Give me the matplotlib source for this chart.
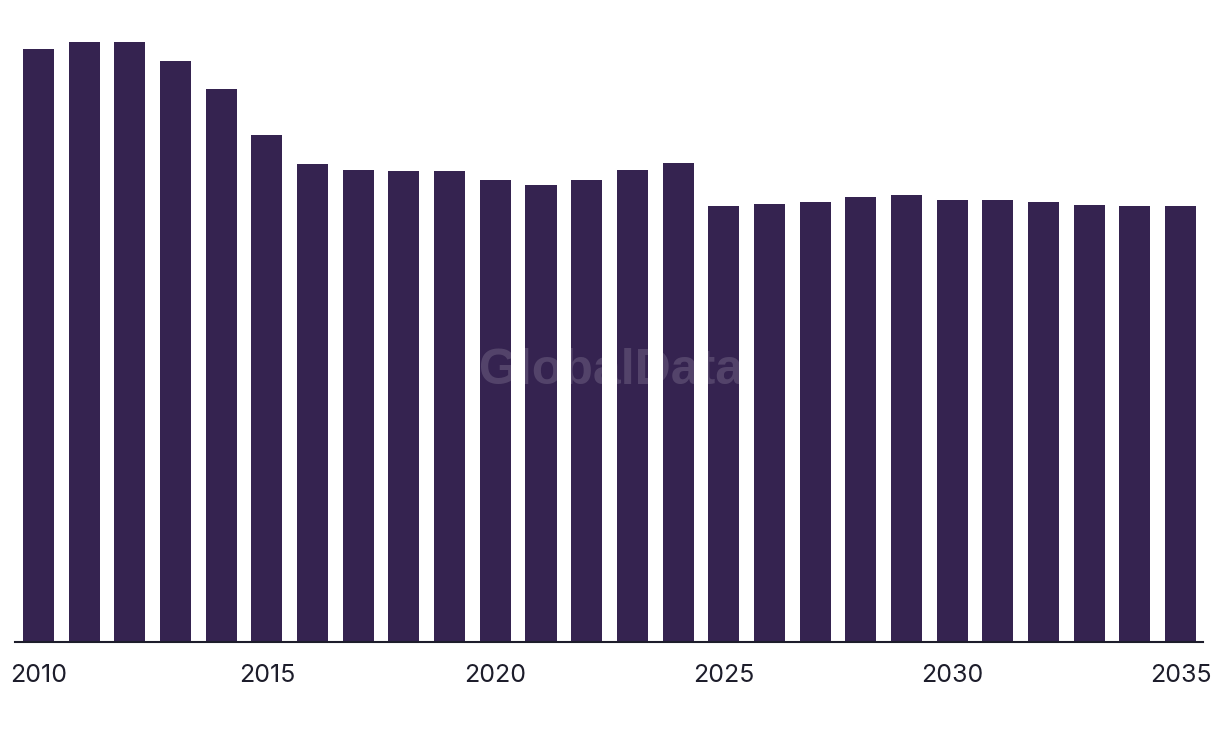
import matplotlib
matplotlib.use("Agg")
import matplotlib.pyplot as plt

# bar heights (arbitrary units, no y axis shown)
years = list(range(2010, 2036))
values = [593, 600, 600, 581, 553, 507, 478, 472, 471, 471, 462, 457, 462,
          472, 479, 436, 438, 440, 445, 447, 442, 442, 440, 437, 436, 436]
tick_years = [2010, 2015, 2020, 2025, 2030, 2035]

bar_color = '#352350'
text_color = '#1d1d2b'

plt.rcParams['font.family'] = ['Inter', 'DejaVu Sans']

fig = plt.figure(figsize=(12.2, 7.38), dpi=100)
ax = fig.add_axes([15 / 1220, 96.3 / 738, 1188 / 1220, 641.7 / 738])

ax.bar(years, values, width=0.68, color=bar_color, zorder=2)
ax.set_xlim(2009.486, 2035.49)
ax.set_ylim(0, 641.7)

for s in ['top', 'right', 'left']:
    ax.spines[s].set_visible(False)
ax.spines['bottom'].set_color(text_color)
ax.spines['bottom'].set_linewidth(1.5)
ax.set_yticks([])
ax.set_xticks(tick_years)
ax.set_xticklabels([str(y) for y in tick_years], fontsize=18, color=text_color)
ax.tick_params(axis='x', length=0, pad=16)

# faint watermark
fig.text(611 / 1220, 1 - 371 / 738, 'GlobalData', ha='center', va='center',
         fontsize=36, fontweight='bold', color='white', alpha=0.15,
         family=['Liberation Sans', 'DejaVu Sans'])

fig.savefig('out.png', dpi=100)
